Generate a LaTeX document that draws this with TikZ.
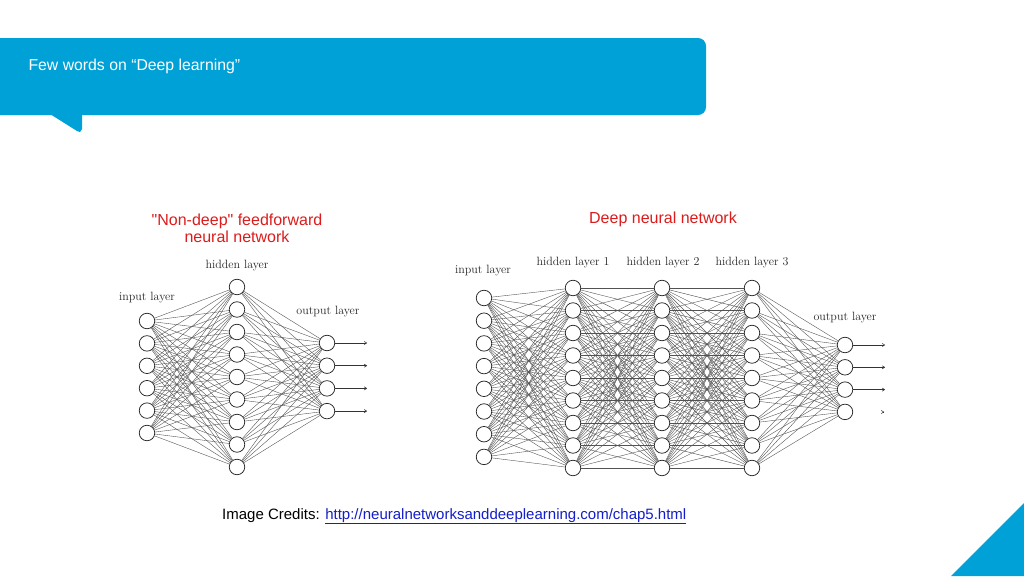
\documentclass[tikz,border=0pt]{standalone}
\usepackage{fontspec}
\newfontfamily\arial{Liberation Sans}
\usetikzlibrary{arrows.meta}
\definecolor{banner}{RGB}{0,161,215}
\definecolor{ttlred}{RGB}{220,28,28}
\definecolor{linkblue}{RGB}{20,30,200}
\begin{document}
\begin{tikzpicture}[x=1pt,y=-1pt,
  neuron/.style={circle,draw=black!85,fill=white,line width=0.75pt,minimum size=15.5pt,inner sep=0pt},
  wire/.style={draw=black!68,line width=0.38pt},
  lbl/.style={font=\fontsize{12}{14}\selectfont,text=black!85},
  ttl/.style={font=\arial\fontsize{16}{17}\selectfont,text=ttlred,align=center},
  outarrow/.style={-{To[length=3pt,width=3.5pt]},line width=0.55pt,draw=black!80}]
\useasboundingbox (0,0) rectangle (1024,576);
\fill[white] (0,0) rectangle (1024,576);
% banner
\fill[banner,rounded corners=8pt] (-20,38) rectangle (706,115);
\fill[banner] (50,114) -- (77,131) -- (80,132) -- (82,129) -- (82,114) -- cycle;
\node[anchor=west,text=white,font=\arial\fontsize{15.8}{18}\selectfont] (hdr) at (25,66) {Few words on “Deep learning”};
% corner triangle
\fill[banner] (951,576) -- (1024,503) -- (1024,576) -- cycle;
% credits
\node[anchor=base west,font=\arial\fontsize{15}{18}\selectfont,inner sep=0pt] (cred) at (222,519)
  {Image Credits: \textcolor{linkblue}{\underline{http://neuralnetworksanddeeplearning.com/chap5.html}}};

% ---------- left network ----------
\node[ttl] (t1) at (237,228) {"Non-deep" feedforward\\neural network};
\foreach \i in {1,...,6} \node[neuron] (ai\i) at (147,{321+(\i-1)*22.4}) {};
\foreach \i in {1,...,9} \node[neuron] (ah\i) at (237,{287+(\i-1)*22.5}) {};
\foreach \i in {1,...,4} \node[neuron] (ao\i) at (327,{343+(\i-1)*22.7}) {};
\foreach \i in {1,...,6} \foreach \j in {1,...,9} \draw[wire] (ai\i) -- (ah\j);
\foreach \i in {1,...,9} \foreach \j in {1,...,4} \draw[wire] (ah\i) -- (ao\j);
\foreach \i in {1,...,4} {
  \coordinate (ae\i) at (367,{343+(\i-1)*22.7});
  \draw[outarrow] (ao\i) -- (ae\i);
}
\node[lbl] (al1) at (147,298) {input layer};
\node[lbl] (al2) at (237,266) {hidden layer};
\node[lbl] (al3) at (328,312) {output layer};

% ---------- right network ----------
\node[ttl] (t2) at (663,219) {Deep neural network};
\foreach \i in {1,...,8} \node[neuron] (bi\i) at (484,{298+(\i-1)*22.7}) {};
\foreach \k/\x in {1/573,2/662,3/752}
  \foreach \i in {1,...,9} \node[neuron] (bh\k-\i) at (\x,{288+(\i-1)*22.5}) {};
\foreach \i in {1,...,4} \node[neuron] (bo\i) at (845,{345+(\i-1)*22.3}) {};
\foreach \i in {1,...,8} \foreach \j in {1,...,9} \draw[wire] (bi\i) -- (bh1-\j);
\foreach \i in {1,...,9} \foreach \j in {1,...,9} {
  \draw[wire] (bh1-\i) -- (bh2-\j);
  \draw[wire] (bh2-\i) -- (bh3-\j);
}
\foreach \i in {1,...,9} \foreach \j in {1,...,4} \draw[wire] (bh3-\i) -- (bo\j);
\foreach \i in {1,...,3} {
  \coordinate (be\i) at (885,{345+(\i-1)*22.3});
  \draw[outarrow] (bo\i) -- (be\i);
}
\coordinate (be4) at (884,412);
\coordinate (bf4) at (883,412);
\draw[outarrow] (bf4) -- (be4);
\node[lbl] (bl1) at (483,271) {input layer};
\node[lbl] (bl2) at (573,263) {hidden layer 1};
\node[lbl] (bl3) at (663,263) {hidden layer 2};
\node[lbl] (bl4) at (752,263) {hidden layer 3};
\node[lbl] (bl5) at (845,318) {output layer};
\end{tikzpicture}
\end{document}
